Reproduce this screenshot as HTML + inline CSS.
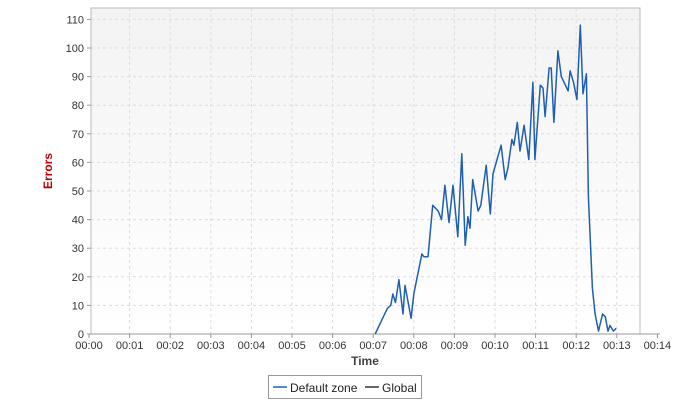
<!DOCTYPE html>
<html><head><meta charset="utf-8"><style>
body{margin:0;background:#fff;font-family:"Liberation Sans",sans-serif;}
svg text{font-family:"Liberation Sans",sans-serif;}
</style></head><body>
<svg width="690" height="400" id="chart">
<defs><linearGradient id="bg" x1="0" y1="0" x2="0" y2="1"><stop offset="0" stop-color="#f3f3f3"/><stop offset="1" stop-color="#ffffff"/></linearGradient></defs>
<rect x="91" y="8" width="549" height="326" fill="url(#bg)" stroke="#bbb"/>
<g id="grid"></g><g id="axes"></g><g id="series"></g>
<text x="52" y="171" transform="rotate(-90 52 171)" text-anchor="middle" font-size="12" font-weight="bold" fill="#c00000">Errors</text>
<text x="365" y="365" text-anchor="middle" font-size="12" font-weight="bold" fill="#444">Time</text>
<g>
<rect x="268.5" y="375.5" width="153" height="23" fill="#fff" stroke="#999"/>
<line x1="273" y1="387" x2="287" y2="387" stroke="#1f5fb0" stroke-width="1.5"/>
<text x="290" y="392" font-size="12" fill="#222">Default zone</text>
<line x1="365" y1="387" x2="379" y2="387" stroke="#000" stroke-width="1.2"/>
<text x="382" y="392" font-size="12" fill="#222">Global</text>
</g>
</svg>
<script>
const times=[423,431,441,446,449,453,458,464,467,476,480,492,495,501,508,516,521,526,532,538,545,551,556,560,563,567,575,579,587,593,597,609,615,619,625,628,633,637,643,650,656,659,667,671,674,680,683,687,693,698,708,711,716,721,726,730,735,738,744,748,753,759,763,767,770,775,779];
const values=[0,4,9,10,14,11,19,7,17,5.5,14,28,27,27,45,43,40,52,39,52,34,63,31,41,37,54,43,45,59,42,56,66,54,58,68,66,74,64,73,61,88,61,87,86,76,93,93,74,99,90,85,92,88,82,108,84,91,48,16,7,1,7,6,1,3,1,2];
const yTicks=[0,10,20,30,40,50,60,70,80,90,100,110];
const xTickMinutes=[0,1,2,3,4,5,6,7,8,9,10,11,12,13,14];
const NS="http://www.w3.org/2000/svg";
const xs=s=>89+s/60*40.6, ys=v=>334-v*2.86;
const grid=document.getElementById('grid'),axes=document.getElementById('axes'),ser=document.getElementById('series');
function mk(tag,attrs,parent,txt){const e=document.createElementNS(NS,tag);for(const k in attrs)e.setAttribute(k,attrs[k]);if(txt!==undefined)e.textContent=txt;parent.appendChild(e);return e;}
yTicks.forEach(v=>{const y=ys(v);
 if(v>0){const g=mk('line',{x1:91,x2:640,y1:y,y2:y,stroke:'#ddd','stroke-dasharray':'3,3'},grid);
 
 }
 mk('line',{x1:87,x2:91,y1:y,y2:y,stroke:'#999'},axes);
 const t=mk('text',{x:84,y:y+4,'text-anchor':'end','font-size':11,fill:'#333'},axes,String(v));
 
 });
xTickMinutes.forEach(m=>{const x=xs(m*60);
 if(m>0&&x<640){const g=mk('line',{x1:x,x2:x,y1:8,y2:334,stroke:'#ddd','stroke-dasharray':'3,3'},grid);
 
 }
 mk('line',{x1:x,x2:x,y1:334,y2:338,stroke:'#999'},axes);
 const t=mk('text',{x:x,y:349,'text-anchor':'middle','font-size':11,fill:'#333'},axes,'00:'+String(m).padStart(2,'0'));
 
 });
mk('line',{x1:91,x2:660,y1:334,y2:334,stroke:'#999'},axes);
const d=times.map((t,i)=>(i?'L':'M')+xs(t).toFixed(1)+','+ys(values[i]).toFixed(1)).join('');
const p=mk('path',{d:d,fill:'none',stroke:'#1f5fb0','stroke-width':1.5,'stroke-linejoin':'round'},ser);


</script>
</body></html>
